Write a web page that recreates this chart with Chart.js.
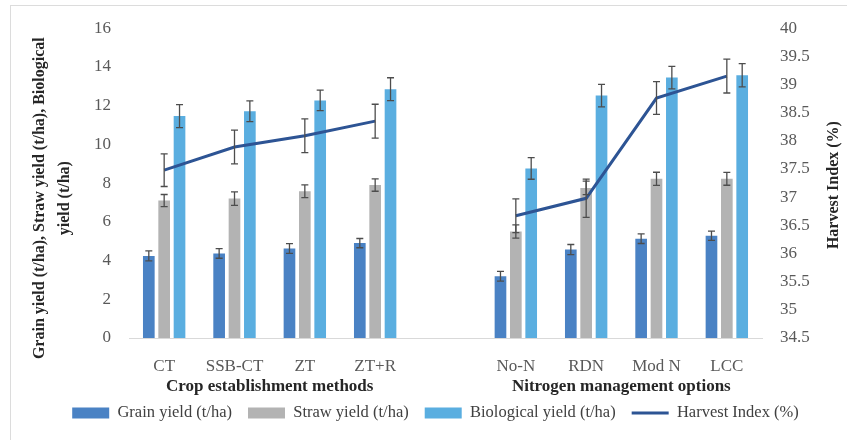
<!DOCTYPE html>
<html>
<head>
<meta charset="utf-8">
<script src="https://cdn.jsdelivr.net/npm/chart.js@4.4.1/dist/chart.umd.min.js"></script>
<style>
	body { margin: 0; background: #fff; }
	#wrap { position: relative; width: 847px; height: 440px; overflow: hidden; }
	#frame { position: absolute; left: 10px; top: 5px; width: 900px; height: 500px; border: 1px solid #dcdcdc; }
	#chart { position: absolute; left: 0; top: 0; }
</style>
</head>
<body>
<div id="wrap">
	<div id="frame"></div>
	<canvas id="chart" width="847" height="440"></canvas>
</div>
<script>
// treatments (blank slot separates the two experiments)
const categories = ["CT", "SSB-CT", "ZT", "ZT+R", "", "No-N", "RDN", "Mod N", "LCC"];
const grainYield = [4.24, 4.37, 4.62, 4.9, null, 3.19, 4.57, 5.13, 5.28];
const grainErr = [0.26, 0.25, 0.25, 0.24, null, 0.25, 0.26, 0.25, 0.24];
const strawYield = [7.1, 7.2, 7.58, 7.9, null, 5.5, 7.75, 8.22, 8.22];
const strawErr = [0.31, 0.35, 0.33, 0.32, null, 0.34, 0.35, 0.34, 0.33];
const bioYield = [11.46, 11.71, 12.27, 12.85, null, 8.76, 12.52, 13.45, 13.57];
const bioErr = [0.59, 0.54, 0.53, 0.59, null, 0.56, 0.58, 0.58, 0.6];
const harvestIndex = [37.48, 37.89, 38.09, 38.35, null, 36.67, 36.98, 38.76, 39.15];
const harvestErr = [0.29, 0.3, 0.3, 0.3, null, 0.3, 0.34, 0.29, 0.3];

const groups = [
	{ label: "Crop establishment methods", from: 0, to: 3 },
	{ label: "Nitrogen management options", from: 5, to: 8 },
];
const leftTitle = ["Grain yield (t/ha), Straw yield (t/ha), Biological", "yield (t/ha)"];
const rightTitle = "Harvest Index (%)";

const serif = "'Liberation Serif', 'Times New Roman', serif";
const tickColor = "#595959";

// whiskers for every dataset, read from dataset.errors
const errorBars = {
	id: "errorBars",
	afterDatasetsDraw(chart) {
		const ctx = chart.ctx;
		ctx.save();
		ctx.strokeStyle = "#4d4d4d";
		ctx.lineWidth = 1.3;
		chart.data.datasets.forEach((ds, i) => {
			const meta = chart.getDatasetMeta(i);
			const scale = chart.scales[meta.yAxisID];
			meta.data.forEach((el, j) => {
				const v = ds.data[j];
				const e = ds.errors[j];
				if (v == null || e == null) return;
				const x = el.x;
				const lo = scale.getPixelForValue(v - e);
				const hi = scale.getPixelForValue(v + e);
				ctx.beginPath();
				ctx.moveTo(x, lo);
				ctx.lineTo(x, hi);
				ctx.moveTo(x - 3.5, lo);
				ctx.lineTo(x + 3.5, lo);
				ctx.moveTo(x - 3.5, hi);
				ctx.lineTo(x + 3.5, hi);
				ctx.stroke();
			});
		});
		ctx.restore();
	},
};

// group captions under the x labels and the two axis titles
const axisText = {
	id: "axisText",
	afterDraw(chart) {
		const { ctx, chartArea, scales } = chart;
		ctx.save();
		ctx.fillStyle = "#262626";
		ctx.textAlign = "center";
		ctx.textBaseline = "middle";
		ctx.font = `bold 17px ${serif}`;
		groups.forEach((g) => {
			const cx = (scales.x.getPixelForValue(g.from) + scales.x.getPixelForValue(g.to)) / 2;
			ctx.fillText(g.label, cx, chartArea.bottom + 49);
		});

		ctx.font = `bold 16px ${serif}`;
		ctx.save();
		ctx.translate(40, chartArea.top + 170);
		ctx.rotate(-Math.PI / 2);
		ctx.fillText(leftTitle[0], 0, 0);
		ctx.fillText(leftTitle[1], 0, 25);
		ctx.restore();

		ctx.save();
		ctx.translate(834, (chartArea.top + chartArea.bottom) / 2 + 2);
		ctx.rotate(-Math.PI / 2);
		ctx.fillText(rightTitle, 0, 0);
		ctx.restore();
		ctx.restore();
	},
};

const barStyle = {
	categoryPercentage: 0.655,
	barPercentage: 0.76,
	borderWidth: 0,
	pointStyle: "rect",
	order: 1,
};

new Chart(document.getElementById("chart"), {
	type: "bar",
	data: {
		labels: categories,
		datasets: [
			{ ...barStyle, label: "Grain yield (t/ha)", data: grainYield, errors: grainErr, backgroundColor: "#4a82c4" },
			{ ...barStyle, label: "Straw yield (t/ha)", data: strawYield, errors: strawErr, backgroundColor: "#b3b3b3" },
			{ ...barStyle, label: "Biological yield (t/ha)", data: bioYield, errors: bioErr, backgroundColor: "#5aaee0" },
			{
				type: "line",
				label: "Harvest Index (%)",
				data: harvestIndex,
				errors: harvestErr,
				yAxisID: "y2",
				borderColor: "#2d5494",
				backgroundColor: "#2d5494",
				borderWidth: 3,
				pointRadius: 0,
				pointStyle: "line",
				tension: 0,
				spanGaps: false,
				order: 0,
			},
		],
	},
	options: {
		responsive: false,
		animation: false,
		layout: { padding: { top: 22, left: 24, right: 0, bottom: 8.75 } },
		plugins: {
			tooltip: { enabled: false },
			legend: {
				position: "bottom",
				labels: {
					usePointStyle: true,
					pointStyleWidth: 37,
					boxHeight: 11,
					padding: 16,
					color: "#404040",
					font: { family: serif, size: 16.5 },
					sort: (a, b) => a.datasetIndex - b.datasetIndex,
				},
			},
		},
		scales: {
			x: {
				grid: { display: false, drawTicks: false },
				border: { display: true, color: "#d9d9d9" },
				ticks: { color: tickColor, padding: 18, font: { family: serif, size: 17 } },
				afterFit: (s) => { s.height = 50.75; },
			},
			y: {
				position: "left",
				min: 0,
				max: 16,
				grid: { display: false, drawTicks: false },
				border: { display: false },
				ticks: { stepSize: 2, color: tickColor, padding: 18, font: { family: serif, size: 17 } },
				afterFit: (s) => { s.width = 105; },
			},
			y2: {
				position: "right",
				min: 34.5,
				max: 40,
				grid: { display: false, drawTicks: false },
				border: { display: false },
				ticks: {
					stepSize: 0.5,
					color: tickColor,
					padding: 18,
					font: { family: serif, size: 17 },
					callback: (v) => String(v),
				},
				afterFit: (s) => { s.width = 85; },
			},
		},
	},
	plugins: [errorBars, axisText],
});
</script>
</body>
</html>
